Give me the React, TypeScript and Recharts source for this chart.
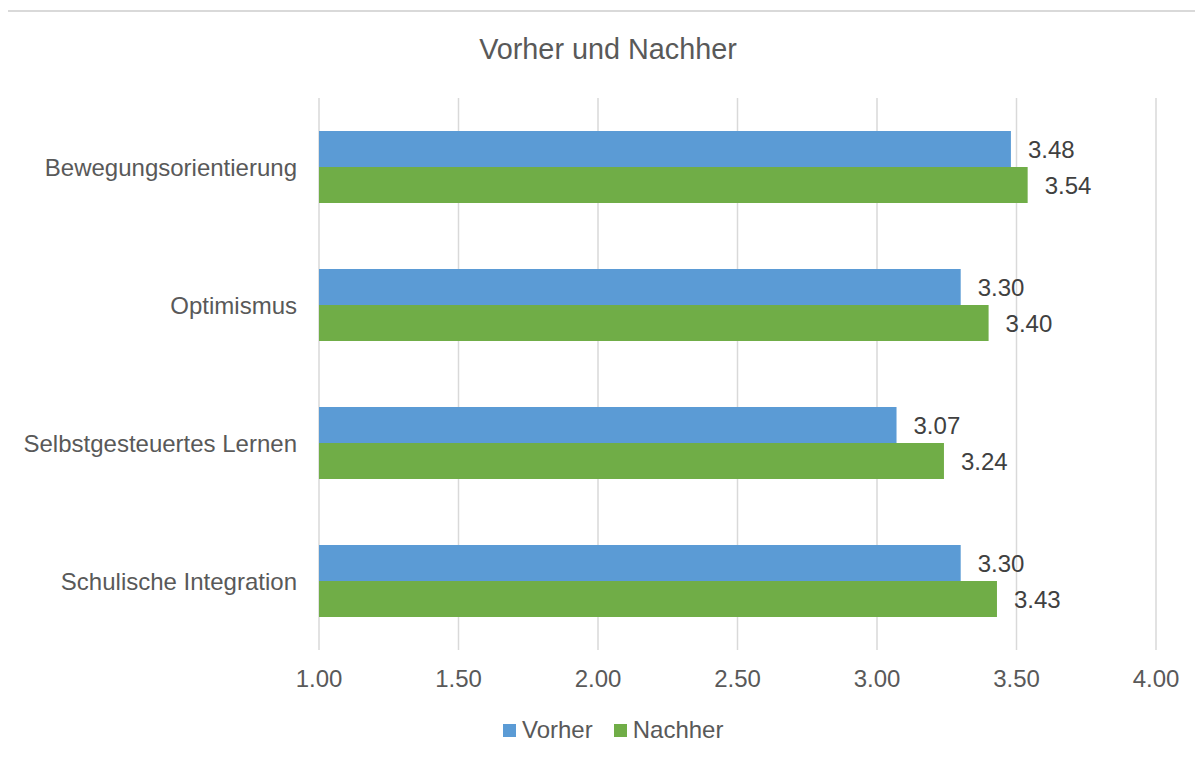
import { BarChart, Bar, XAxis, YAxis, CartesianGrid, LabelList } from 'recharts'

const categories = ['Bewegungsorientierung', 'Optimismus', 'Selbstgesteuertes Lernen', 'Schulische Integration']
const vorher = [3.48, 3.3, 3.07, 3.3]
const nachher = [3.54, 3.4, 3.24, 3.43]
const xTicks = [1, 1.5, 2, 2.5, 3, 3.5, 4]

const data = categories.map((name, i) => ({ name, vorher: vorher[i], nachher: nachher[i] }))

const FONT = '"Liberation Sans", Arial, sans-serif'
const BLUE = '#5B9BD5'
const GREEN = '#70AD47'
const TICK = '#595959'

const fmt = (v: number) => Number(v).toFixed(2)

// Legende als einfaches HTML unter dem Diagramm
function LegendBox() {
  const items = [
    { label: 'Vorher', color: BLUE },
    { label: 'Nachher', color: GREEN }
  ]
  return (
    <div
      style={{
        position: 'absolute', left: 503, top: 718, display: 'flex', alignItems: 'center',
        fontFamily: FONT, fontSize: 24, color: TICK
      }}
    >
      {items.map((it, i) => (
        <div key={it.label} style={{ display: 'flex', alignItems: 'center', marginRight: i === 0 ? 21 : 0 }}>
          <span style={{ width: 13, height: 13, background: it.color, display: 'inline-block', marginRight: 6 }} />
          <span style={{ lineHeight: 1 }}>{it.label}</span>
        </div>
      ))}
    </div>
  )
}

export default function App() {
  return (
    <div style={{ position: 'relative', width: 1203, height: 760, margin: -8, overflow: 'hidden', background: '#fff' }}>
      <div
        style={{
          position: 'absolute', left: 6, top: 10, width: 1300, height: 900,
          borderLeft: '2px solid #d9d9d9', borderTop: '2px solid #d9d9d9'
        }}
      />
      <div
        style={{
          position: 'absolute', left: 0, top: 35, width: 1216, textAlign: 'center',
          fontFamily: FONT, fontSize: 28.8, lineHeight: 1, color: TICK
        }}
      >
        Vorher und Nachher
      </div>
      <div style={{ position: 'absolute', left: 0, top: 0 }}>
        <BarChart
          width={1203}
          height={760}
          data={data}
          layout="vertical"
          margin={{ top: 98, right: 47, bottom: 80, left: 0 }}
          barCategoryGap="24%"
          barGap={0}
        >
          <CartesianGrid horizontal={false} stroke="#d9d9d9" strokeWidth={1.5} />
          <XAxis
            type="number"
            domain={[1, 4]}
            ticks={xTicks}
            tickFormatter={fmt}
            axisLine={false}
            tickLine={false}
            tickSize={0}
            tickMargin={20}
            height={30}
            tick={{ fill: TICK, fontSize: 24, fontFamily: FONT }}
          />
          <YAxis
            type="category"
            dataKey="name"
            width={319}
            axisLine={false}
            tickLine={false}
            tickSize={0}
            tickMargin={22}
            tick={{ fill: TICK, fontSize: 24, fontFamily: FONT }}
          />
          <Bar dataKey="vorher" name="Vorher" fill={BLUE} isAnimationActive={false}>
            <LabelList dataKey="vorher" position="right" offset={17} formatter={fmt}
              style={{ fill: '#404040', fontSize: 24, fontFamily: FONT }} />
          </Bar>
          <Bar dataKey="nachher" name="Nachher" fill={GREEN} isAnimationActive={false}>
            <LabelList dataKey="nachher" position="right" offset={17} formatter={fmt}
              style={{ fill: '#404040', fontSize: 24, fontFamily: FONT }} />
          </Bar>
        </BarChart>
      </div>
      <LegendBox />
    </div>
  )
}
